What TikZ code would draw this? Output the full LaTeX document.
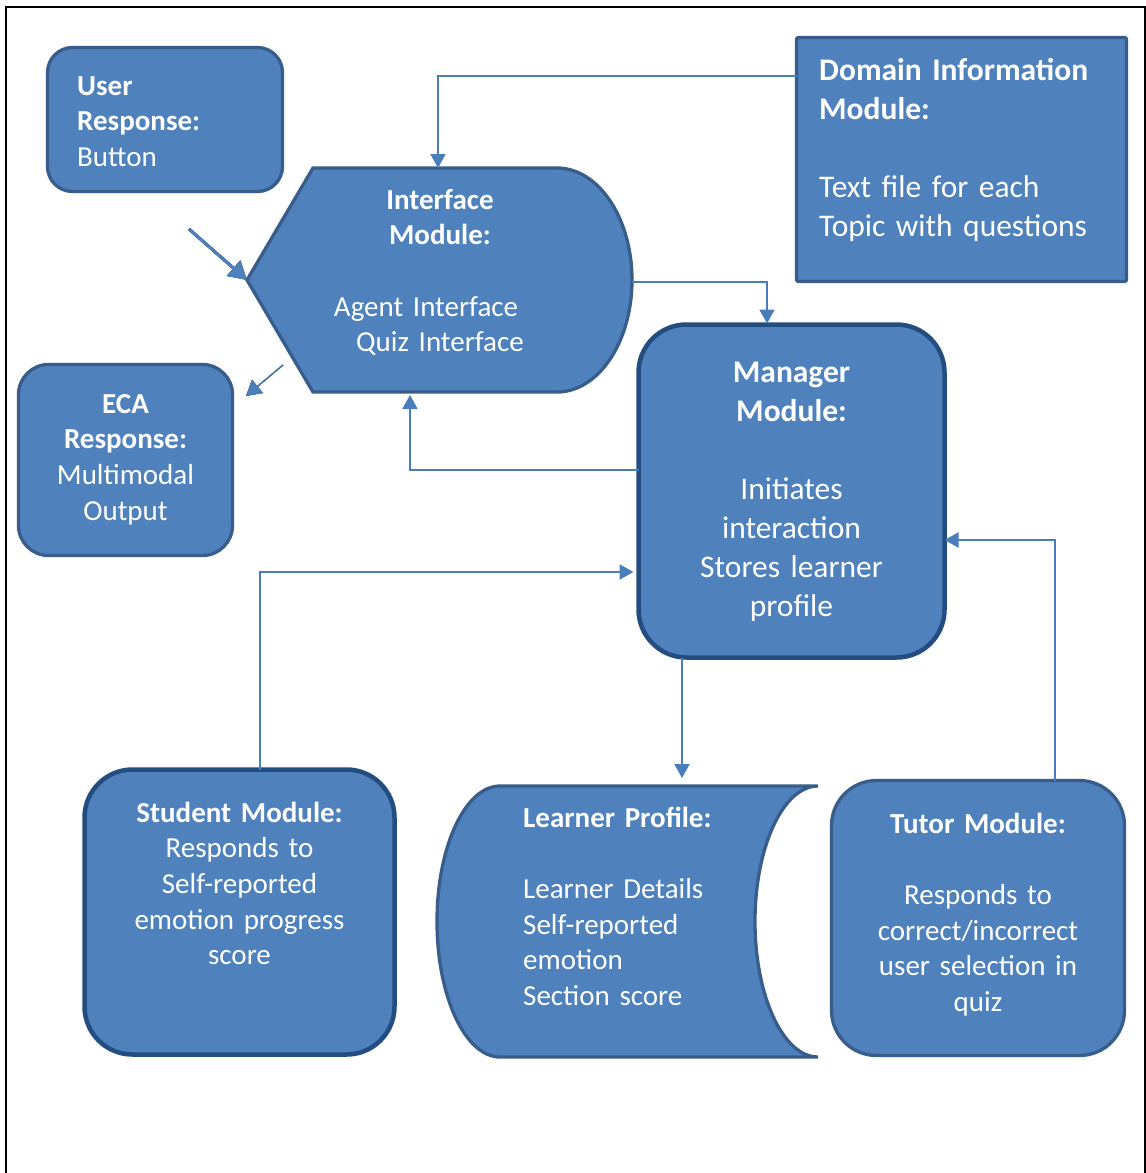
\documentclass[tikz,border=0pt]{standalone}
\usepackage{fontspec}
\setmainfont{Carlito}
\usetikzlibrary{arrows.meta,calc}
\definecolor{boxfill}{HTML}{4F81BD}
\definecolor{boxline}{HTML}{385D8A}
\definecolor{boxdark}{HTML}{234D80}
\definecolor{connblue}{HTML}{4A7EBB}
\definecolor{shade}{HTML}{9A9A9A}
\begin{document}
\begin{tikzpicture}[x=1pt,y=-1pt,
  box/.style={draw=boxline, fill=boxfill, line width=3.3pt, inner sep=0pt, outer sep=0pt},
  darkbox/.style={box, draw=boxdark, line width=4.5pt},
  txta/.style={text=white, inner sep=0pt, font=\fontsize{29}{35.7}\selectfont},
  txtb/.style={text=white, inner sep=0pt, font=\fontsize{31.5}{39}\selectfont},
  conn/.style={draw=connblue, line width=2pt, -{Triangle[width=15pt,length=14pt]}},
  ]
\useasboundingbox (0,0) rectangle (1146,1173);

% page frame
\draw[line width=1.5pt] (6,1173) -- (6,7) -- (1145,7) -- (1145,1173);

% rounded module boxes
\node[box, rounded corners=25pt, minimum width=235pt, minimum height=144pt] (user) at (165,119.5) {};
\node[box, rounded corners=2pt, minimum width=330pt, minimum height=244pt] (dom) at (961.5,159.5) {};
\node[box, rounded corners=30pt, minimum width=214pt, minimum height=191pt] (eca) at (125.5,460) {};
\node[darkbox, rounded corners=48pt, minimum width=306pt, minimum height=333pt] (mgr) at (791.5,491) {};
\node[darkbox, rounded corners=48pt, minimum width=310pt, minimum height=285pt] (stu) at (239.5,912) {};
\node[box, rounded corners=45pt, minimum width=293pt, minimum height=275pt] (tut) at (978,918) {};

% interface module (display shape)
\draw[box] (313,168) -- (557,168) arc[start angle=-90, end angle=90, x radius=75, y radius=112]
  -- (313,392) -- (247,280) -- cycle;
\coordinate (iface-w) at (247,280);
\coordinate (iface-top) at (438,168);
\coordinate (iface-e) at (632,282);
\coordinate (iface-bot) at (410,395);

% learner profile (stored data shape)
\draw[box] (500,786) -- (818,786) arc[start angle=-90, end angle=-270, x radius=63, y radius=135.5]
  -- (500,1057) arc[start angle=90, end angle=270, x radius=63, y radius=135.5] -- cycle;
\coordinate (lp-top) at (682,786);

% texts
\node[txta, anchor=base west, text width=200pt, align=left] (userT) at (77,95)
  {\textbf{User}\\\textbf{Response:}\\Button};
\node[txtb, anchor=base west, text width=320pt, align=left] (domT) at (819,80)
  {\textbf{Domain Information}\\\textbf{Module:}\\[39pt]Text file for each\\Topic with questions};
\node[txta, anchor=base, text width=300pt, align=center] (ifaceT) at (440,209)
  {\textbf{Interface}\\\textbf{Module:}\\[35.7pt]Agent Interface\hspace*{28pt}\mbox{}\\Quiz Interface};
\node[txta, anchor=base, text width=200pt, align=center] (ecaT) at (125.5,413)
  {\textbf{ECA}\\\textbf{Response:}\\Multimodal\\Output};
\node[txtb, anchor=base, text width=300pt, align=center] (mgrT) at (791.5,382)
  {\textbf{Manager}\\\textbf{Module:}\\[39pt]Initiates\\interaction\\Stores learner\\profile};
\node[txta, anchor=base, text width=300pt, align=center] (stuT) at (239.5,822)
  {\textbf{Student Module:}\\Responds to\\Self-reported\\emotion progress\\score};
\node[txta, anchor=base west, text width=250pt, align=left] (lpT) at (523,827)
  {\textbf{Learner Profile:}\\[35.7pt]Learner Details\\Self-reported\\emotion\\Section score};
\node[txta, anchor=base, text width=290pt, align=center] (tutT) at (978,833)
  {\textbf{Tutor Module:}\\[35.7pt]Responds to\\correct/incorrect\\user selection in\\quiz};

% connectors between modules
\draw[conn] ($(dom.north west)+(0,38)$) -| (iface-top);
\draw[conn] (iface-e) -| ($(mgr.north)+(-24.5,-1)$);
\draw[conn] ($(mgr.west)+(0,-21)$) -| (iface-bot);
\draw[conn] ($(stu.north)+(20.5,0)$) |- ($(mgr.west)+(-5,81)$);
\draw[conn, shorten >=8pt] ($(mgr.south)+(-109.5,0)$) -- (lp-top);
\draw[conn] ($(tut.north)+(77,0)$) |- ($(mgr.east)+(0,49)$);

% user input and ECA output arrows
\coordinate (user-in) at (189,229);
\coordinate (eca-from) at (283,365);
\coordinate (eca-to) at (246,396);
\begin{scope}[shift={(-1.5,3)}]
  \draw[shade, line width=3pt, -{Triangle[width=20pt,length=18pt]}] (user-in) -- (iface-w);
  \draw[shade, line width=1.2pt, -{Triangle[width=17pt,length=15pt]}] (eca-from) -- (eca-to);
\end{scope}
\draw[boxfill, line width=3pt, -{Triangle[width=20pt,length=18pt]}] (user-in) -- (iface-w);
\draw[connblue, line width=1.2pt, -{Triangle[width=17pt,length=15pt]}] (eca-from) -- (eca-to);
\end{tikzpicture}
\end{document}
